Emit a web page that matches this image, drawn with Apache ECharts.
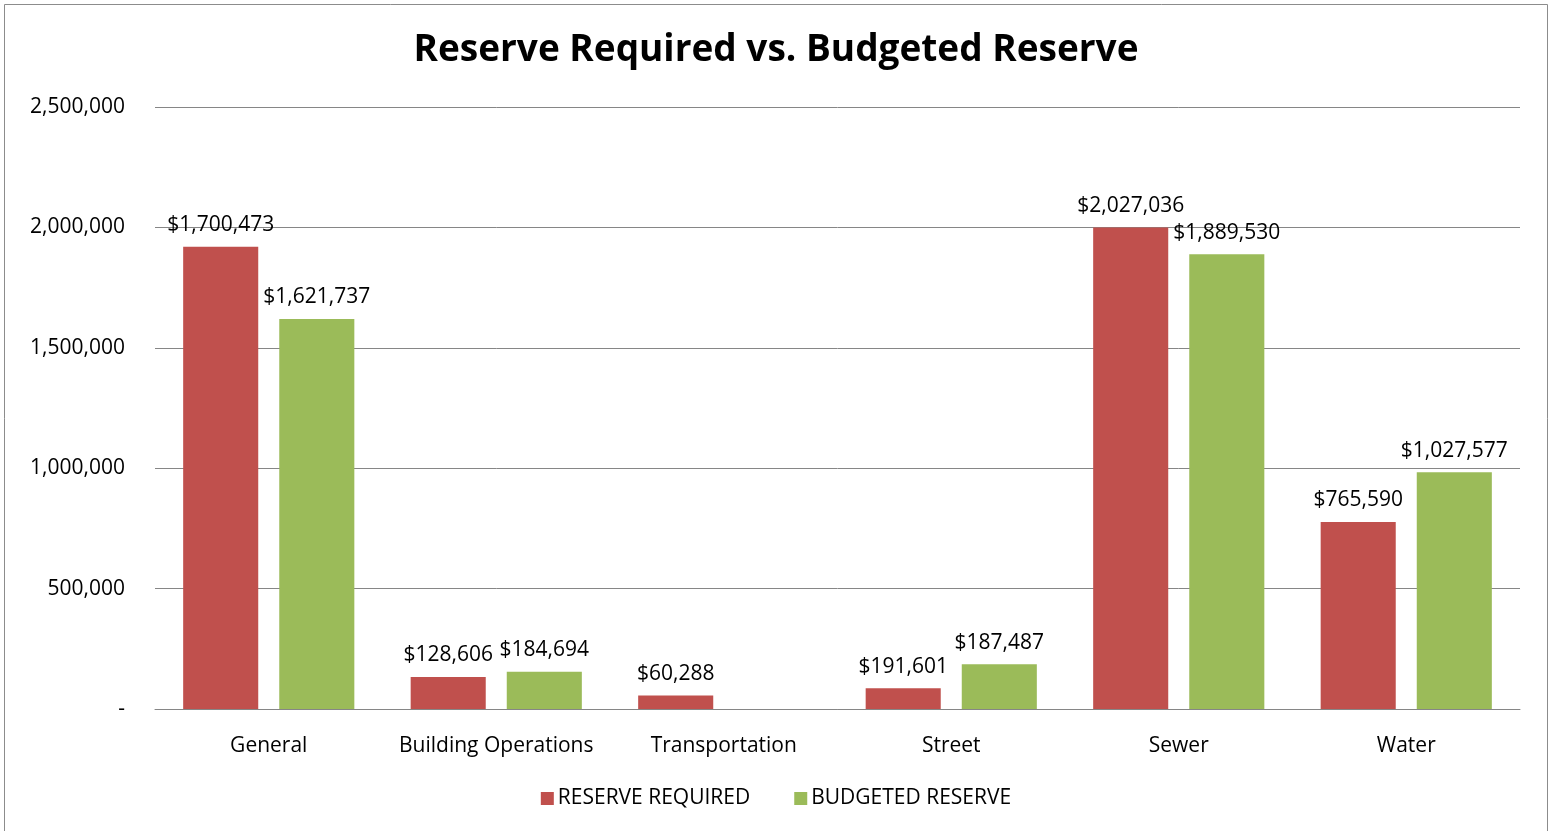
<!DOCTYPE html>
<html>
<head>
<meta charset="utf-8">
<script src="https://cdn.jsdelivr.net/npm/echarts@6/dist/echarts.min.js"></script>
<style>
html,body{margin:0;padding:0;background:#fff;}
#chart{width:1552px;height:831px;}
</style>
</head>
<body>
<div id="chart"></div>
<script>
const categories = ['General', 'Building Operations', 'Transportation', 'Street', 'Sewer', 'Water'];
const seriesNames = ['RESERVE REQUIRED', 'BUDGETED RESERVE'];
const reserveRequired = [1920000, 133000, 56000, 86000, 2000000, 777000];
const budgetedReserve = [1620000, 155000, null, 186000, 1888000, 983000];
const reserveRequiredLabels = ['$1,700,473', '$128,606', '$60,288', '$191,601', '$2,027,036', '$765,590'];
const budgetedReserveLabels = ['$1,621,737', '$184,694', '', '$187,487', '$1,889,530', '$1,027,577'];
const yMin = 0, yMax = 2500000, yInterval = 500000;

const FONT = 'Open Sans';
const chart = echarts.init(document.getElementById('chart'));

function fmtAxis(v) {
  if (v === 0) return '-';
  return v.toLocaleString('en-US');
}

const labelStyle = {
  show: true,
  position: 'top',
  distance: 11,
  fontFamily: FONT,
  fontSize: 21,
  color: '#000'
};

chart.setOption({
  animation: false,
  backgroundColor: '#fff',
  graphic: [{
    type: 'rect',
    shape: { x: 4.5, y: 4.5, width: 1543, height: 840 },
    style: { fill: 'none', stroke: '#8c8c8c', lineWidth: 1 },
    silent: true
  }],
  title: {
    text: 'Reserve Required vs. Budgeted Reserve',
    left: 'center',
    top: 27,
    textStyle: { fontFamily: FONT, fontSize: 37, fontWeight: 'bold', color: '#000' }
  },
  legend: {
    bottom: 17,
    left: 'center',
    itemWidth: 13,
    itemHeight: 13,
    itemGap: 44,
    icon: 'rect',
    textStyle: { fontFamily: FONT, fontSize: 21, color: '#000', padding: [0, 0, 0, -1] },
    data: seriesNames
  },
  grid: { left: 155, right: 32, top: 107, bottom: 122 },
  xAxis: {
    type: 'category',
    data: categories,
    axisLine: { lineStyle: { color: '#868686', width: 1 } },
    axisTick: { show: false },
    axisLabel: { fontFamily: FONT, fontSize: 21, color: '#000', margin: 27, interval: 0 }
  },
  yAxis: {
    type: 'value',
    min: yMin, max: yMax, interval: yInterval,
    axisLine: { show: false },
    axisTick: { show: false },
    splitLine: { lineStyle: { color: '#868686', width: 1 } },
    axisLabel: { fontFamily: FONT, fontSize: 21, color: '#000', margin: 30, formatter: fmtAxis }
  },
  series: [
    {
      name: seriesNames[0],
      type: 'bar',
      data: reserveRequired,
      barWidth: '33%',
      barGap: '28%',
      itemStyle: { color: '#C0504D' },
      label: Object.assign({}, labelStyle, { formatter: p => reserveRequiredLabels[p.dataIndex] })
    },
    {
      name: seriesNames[1],
      type: 'bar',
      data: budgetedReserve,
      barWidth: '33%',
      barGap: '28%',
      itemStyle: { color: '#9BBB59' },
      label: Object.assign({}, labelStyle, { formatter: p => budgetedReserveLabels[p.dataIndex] })
    }
  ]
});
</script>
</body>
</html>
